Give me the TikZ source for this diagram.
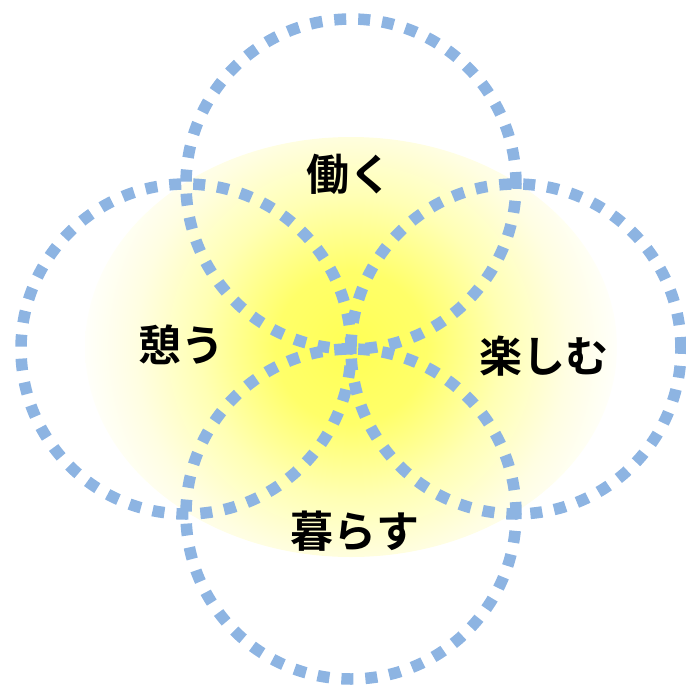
\documentclass[tikz,border=0pt]{standalone}
\usepackage{fontspec}
\newfontfamily\jpfont{Noto Sans CJK JP}[BoldFont={* Bold}]
\definecolor{ringblue}{RGB}{141,180,226}
\definecolor{gA}{RGB}{255,255,85}
\definecolor{gB}{RGB}{255,255,105}
\definecolor{gC}{RGB}{255,255,180}
\definecolor{gD}{RGB}{255,254,226}
\definecolor{gE}{RGB}{255,255,252}
\pgfdeclareradialshading{glow}{\pgfpoint{0bp}{0bp}}{%
  color(0bp)=(gA); color(7bp)=(gB); color(14bp)=(gC); color(20bp)=(gD); color(25bp)=(gE); color(50bp)=(gE)}
\tikzset{
  ring/.style={circle, draw=ringblue, line width=11.5pt, dash pattern=on 12pt off 12pt,
    minimum size=330pt, inner sep=0pt, outer sep=0pt},
  word/.style={font=\jpfont\bfseries\fontsize{43pt}{47pt}\selectfont, text=black, inner sep=0pt}
}
\begin{document}
\begin{tikzpicture}[x=1pt,y=-1pt]
  \useasboundingbox (0,0) rectangle (686,689);
  \begin{scope}
    \clip (351,347) ellipse [x radius=266, y radius=210];
    \shade[shading=glow] (351,347) circle (270);
  \end{scope}
  \node[ring] (rtop) at (351,184) {};
  \node[ring] (rleft) at (186,349) {};
  \node[ring] (rright) at (516,349) {};
  \node[ring] (rbottom) at (351,514) {};
  \node[word] (work) at (349,174) {働く};
  \node[word] (rest) at (181,345) {憩う};
  \node[word] (enjoy) at (544,356) {楽しむ};
  \node[word] (live) at (355,531) {暮らす};
\end{tikzpicture}
\end{document}
